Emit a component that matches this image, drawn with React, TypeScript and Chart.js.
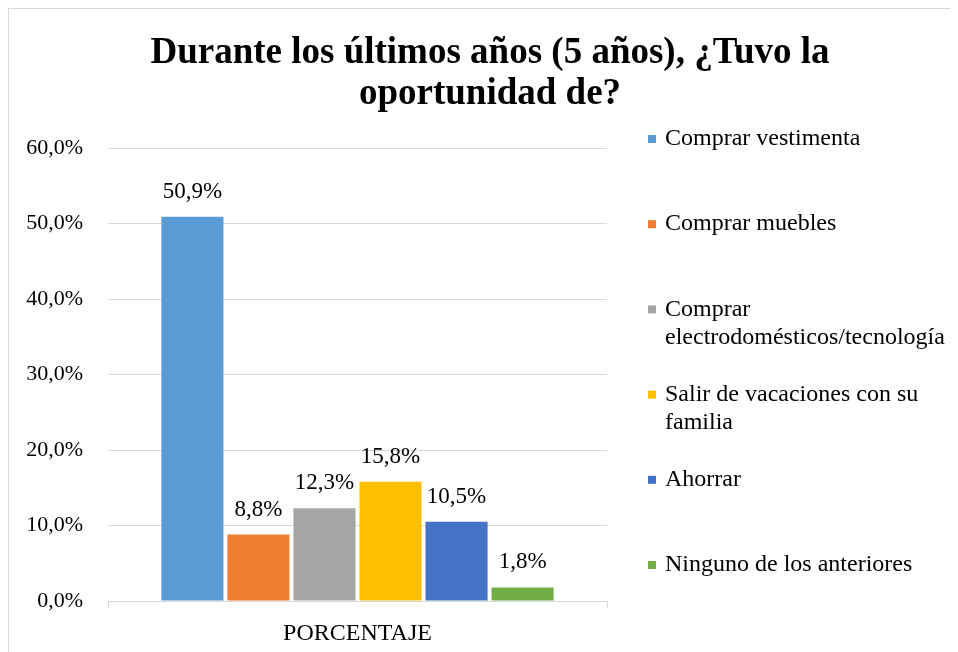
import React, { useEffect, useRef } from "react";
import { Chart, registerables } from "chart.js";

Chart.register(...registerables);

const titleLines = ["Durante los últimos años (5 años), ¿Tuvo la", "oportunidad de?"];
const categories = ["PORCENTAJE"];
const seriesNames = [
  "Comprar vestimenta",
  "Comprar muebles",
  "Comprar electrodomésticos/tecnología",
  "Salir de vacaciones con su familia",
  "Ahorrar",
  "Ninguno de los anteriores",
];
const legendLines = [
  ["Comprar vestimenta"],
  ["Comprar muebles"],
  ["Comprar", "electrodomésticos/tecnología"],
  ["Salir de vacaciones con su", "familia"],
  ["Ahorrar"],
  ["Ninguno de los anteriores"],
];
const seriesValues = [50.9, 8.8, 12.3, 15.8, 10.5, 1.8];
const seriesColors = ["#5B9BD5", "#ED7D31", "#A5A5A5", "#FFC000", "#4472C4", "#70AD47"];
const yTicks = [0, 10, 20, 30, 40, 50, 60];

const FONT = "'Liberation Serif', 'Times New Roman', serif";
const fmt = (v: number) => v.toFixed(1).replace(".", ",") + "%";

const overlayPlugin = {
  id: "overlay",
  afterDatasetsDraw(chart: any) {
    const ctx = chart.ctx;
    ctx.save();
    // data labels
    ctx.font = `23px ${FONT}`;
    ctx.fillStyle = "#000";
    ctx.textAlign = "center";
    ctx.textBaseline = "middle";
    chart.data.datasets.forEach((ds: any, i: number) => {
      const meta = chart.getDatasetMeta(i);
      meta.data.forEach((bar: any, j: number) => {
        ctx.fillText(fmt(ds.data[j]), bar.x, bar.y - 25);
      });
    });
    // title
    const w = chart.width;
    ctx.font = `bold 37px ${FONT}`;
    titleLines.forEach((t, i) => ctx.fillText(t, w / 2, 44 + i * 41));
    // legend
    const top = chart.chartArea.top - 9;
    ctx.font = `24px ${FONT}`;
    ctx.textAlign = "left";
    legendLines.forEach((lines, i) => {
      const y0 = top + i * 85.2;
      ctx.fillStyle = seriesColors[i];
      ctx.fillRect(639, y0 - 4, 8, 8);
      ctx.fillStyle = "#000";
      lines.forEach((ln, k) => ctx.fillText(ln, 656, y0 + k * 28));
    });
    ctx.restore();
  },
};

export default function App() {
  const ref = useRef<HTMLCanvasElement>(null);
  useEffect(() => {
    document.body.style.overflow = "hidden";
    const chart = new Chart(ref.current!, {
      type: "bar",
      data: {
        labels: categories,
        datasets: seriesNames.map((n, i) => ({
          label: n,
          data: [seriesValues[i]],
          backgroundColor: seriesColors[i],
          barPercentage: 0.94,
          categoryPercentage: 0.794,
        })),
      },
      options: {
        animation: false,
        responsive: false,
        devicePixelRatio: 1,
        layout: { padding: { top: 139, right: 364, left: 0, bottom: 0 } },
        plugins: {
          legend: { display: false },
          title: { display: false },
          tooltip: { enabled: false },
        },
        scales: {
          x: {
            grid: { drawOnChartArea: false, drawTicks: true, tickLength: 7, color: "#d9d9d9" },
            border: { display: true, color: "#d9d9d9" },
            ticks: { padding: 11, color: "#000", font: { family: FONT, size: 24 } },
            afterFit: (s: any) => { s.height = 66; },
          },
          y: {
            min: 0,
            max: 60,
            afterBuildTicks: (s: any) => { s.ticks = yTicks.map((v) => ({ value: v })); },
            grid: { drawTicks: false, color: "#d9d9d9" },
            border: { display: false },
            ticks: {
              padding: 25,
              color: "#000",
              font: { family: FONT, size: 22 },
              callback: (v: any) => fmt(Number(v)),
            },
            afterFit: (s: any) => { s.width = 99; },
          },
        },
      },
      plugins: [overlayPlugin],
    });
    return () => chart.destroy();
  }, []);
  return (
    <div style={{ width: 962, height: 658, border: "1px solid #d9d9d9" }}>
      <canvas ref={ref} width={962} height={658} style={{ display: "block" }} />
    </div>
  );
}
